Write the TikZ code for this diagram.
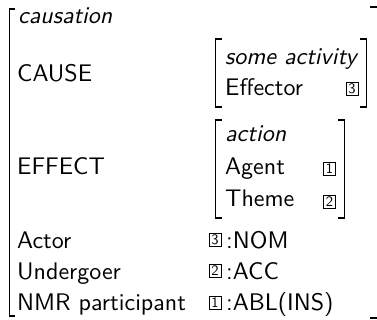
\documentclass[tikz,border=0pt]{standalone}
\usepackage{fontspec}
\newfontfamily\avmfont{lmsans10-regular.otf}[ItalicFont=lmsans10-oblique.otf]
\begin{document}
\begin{tikzpicture}[x=1pt,y=-1pt,
  txt/.style={anchor=base west,inner sep=0pt,font=\avmfont\fontsize{24}{29}\selectfont},
  itxt/.style={txt,font=\avmfont\fontsize{24}{29}\selectfont\itshape},
  tag/.style={draw,line width=0.7pt,inner sep=0pt,minimum width=12pt,minimum height=13pt,font=\avmfont\fontsize{14.5}{14.5}\selectfont},
  brk/.style={line width=1.4pt},
  ibrk/.style={line width=1.3pt}]
\useasboundingbox (0,0) rectangle (377,320);
% outer bracket
\draw[brk] (15,9) -- (9.5,9) -- (9.5,316) -- (15,316);
\draw[brk] (370,7) -- (377,7);
\draw[brk] (370,318) -- (377,318);
% left column
\node[itxt] (caus) at (18,24) {causation};
\node[txt] (cause) at (17,82) {CAUSE};
\node[txt] (effect) at (17,175) {EFFECT};
\node[txt] (actor) at (17,248) {Actor};
\node[txt] (under) at (17,279) {Undergoer};
\node[txt] (nmr) at (17,310) {NMR participant};
% inner matrix 1
\draw[ibrk] (222,39) -- (215.5,39) -- (215.5,107) -- (222,107);
\draw[ibrk] (360,39) -- (366.5,39) -- (366.5,107) -- (360,107);
\node[itxt] (some) at (225,65) {some activity};
\node[txt] (eff) at (225,96) {Effector};
\node[tag] (t3a) at (352,89) {3};
% inner matrix 2
\draw[ibrk] (222,120) -- (215.5,120) -- (215.5,218) -- (222,218);
\draw[ibrk] (338,120) -- (344.5,120) -- (344.5,218) -- (338,218);
\node[itxt] (act) at (225,142) {action};
\node[txt] (agent) at (225,175) {Agent};
\node[txt] (theme) at (225,207) {Theme};
\node[tag] (t1a) at (329.5,169) {1};
\node[tag] (t2a) at (329.5,202) {2};
% bottom values
\node[tag] (t3b) at (215,240) {3};
\node[txt] (nom) at (226,248) {:NOM};
\node[tag] (t2b) at (215,271) {2};
\node[txt] (acc) at (226,279) {:ACC};
\node[tag] (t1b) at (215,303) {1};
\node[txt] (abl) at (226,310) {:ABL(INS)};
\end{tikzpicture}
\end{document}
